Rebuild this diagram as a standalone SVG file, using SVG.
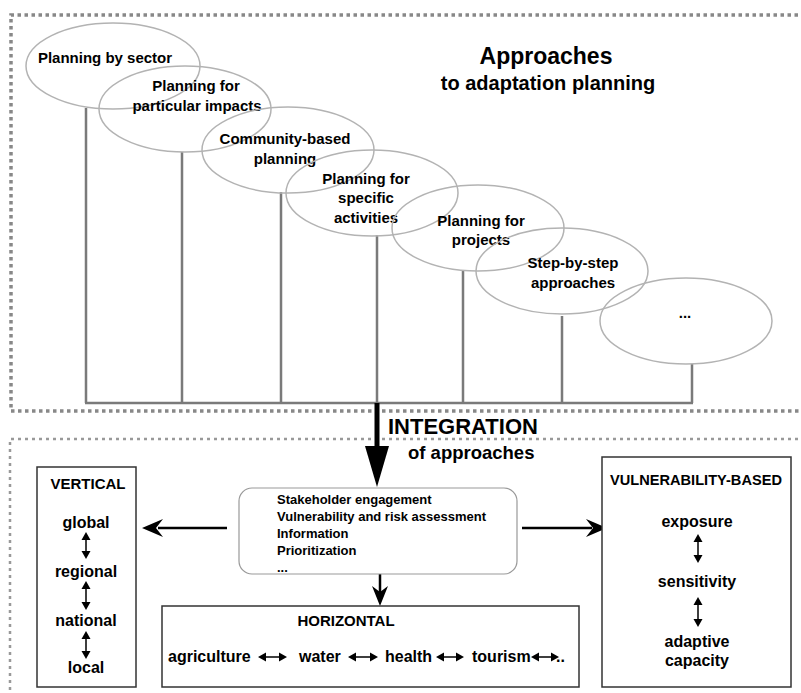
<svg xmlns="http://www.w3.org/2000/svg" width="801" height="693" viewBox="0 0 801 693">
<style>
text{font-family:"Liberation Sans",Arial,sans-serif;font-weight:bold;fill:#000}
.el{fill:none;stroke:#b3b3b3;stroke-width:1.5}
.lbl{font-size:15px;text-anchor:middle}
.stem{stroke:#7a7a7a;stroke-width:2.5;fill:none}
.box{fill:#fff;stroke:#333;stroke-width:1.5}
.w{font-size:16px;text-anchor:middle}
.hdr{text-anchor:middle}
.ln{stroke:#000;fill:none}
.hd{fill:#000;stroke:none}
</style>
<rect width="801" height="693" fill="#fff"/>
<!-- frames -->
<path d="M805,15 H11 V411 H805" fill="none" stroke="#888" stroke-width="3.5" stroke-dasharray="3.5 3.5"/>
<path d="M805,439 H10 V700" fill="none" stroke="#999" stroke-width="2.5" stroke-dasharray="3 4"/>
<!-- titles -->
<text x="546" y="64" font-size="23" text-anchor="middle">Approaches</text>
<text x="548" y="90" font-size="20" text-anchor="middle">to adaptation planning</text>
<text x="388" y="434" font-size="22">INTEGRATION</text>
<text x="408" y="459" font-size="18.5">of approaches</text>
<g id="connectors">
<path class="stem" d="M86,108V403M182,152V403M281,192V403M377,235V403M463,270V403M562,316V403M692,364V403M85,403H693"/>
<line class="ln" x1="377" y1="403" x2="377" y2="448" stroke-width="5"/>
<path class="hd" d="M365,446L389,446L377,487Z"/>
<line class="ln" x1="227" y1="528" x2="158" y2="528" stroke-width="2.5"/>
<path class="hd" d="M142,528L163,519L156,528L163,537Z"/>
<line class="ln" x1="522" y1="528" x2="592" y2="528" stroke-width="2.5"/>
<path class="hd" d="M607,528L586,519L593,528L586,537Z"/>
<line class="ln" x1="380" y1="567" x2="380" y2="592" stroke-width="2.5"/>
<path class="hd" d="M380,606L372,586L380,592L388,586Z"/>
</g>
<!-- ellipses -->
<g id="n1"><ellipse class="el" cx="113" cy="66" rx="87" ry="43"/><text class="lbl" x="105" y="63">Planning by sector</text></g>
<g id="n2"><ellipse class="el" cx="185" cy="109" rx="86" ry="43"/><text class="lbl" x="196" y="91">Planning for</text><text class="lbl" x="197" y="111">particular impacts</text></g>
<g id="n3"><ellipse class="el" cx="288" cy="150" rx="86" ry="43"/><text class="lbl" x="285" y="144">Community-based</text><text class="lbl" x="285" y="164">planning</text></g>
<g id="n4"><ellipse class="el" cx="372" cy="193" rx="86" ry="43"/><text class="lbl" x="366" y="184">Planning for</text><text class="lbl" x="366" y="203">specific</text><text class="lbl" x="366" y="223">activities</text></g>
<g id="n5"><ellipse class="el" cx="478" cy="228" rx="86" ry="43"/><text class="lbl" x="481" y="226">Planning for</text><text class="lbl" x="481" y="245">projects</text></g>
<g id="n6"><ellipse class="el" cx="562" cy="271" rx="86" ry="43"/><text class="lbl" x="573" y="268">Step-by-step</text><text class="lbl" x="573" y="288">approaches</text></g>
<g id="n7"><ellipse class="el" cx="686" cy="321" rx="86" ry="43"/><text class="lbl" x="685" y="318">...</text></g>
<!-- central box -->
<g id="center">
<rect x="239" y="488" width="278" height="86" rx="13" fill="#fff" stroke="#999" stroke-width="1.2"/>
<g font-size="13">
<text x="277" y="504">Stakeholder engagement</text>
<text x="277" y="521">Vulnerability and risk assessment</text>
<text x="277" y="538">Information</text>
<text x="277" y="555">Prioritization</text>
<text x="277" y="572">...</text>
</g>
</g>
<!-- vertical -->
<g id="vertical">
<rect class="box" x="37" y="467" width="99" height="220"/>
<text class="hdr" x="88" y="489" font-size="15">VERTICAL</text>
<text class="w" x="86" y="528">global</text>
<text class="w" x="86" y="577">regional</text>
<text class="w" x="86" y="626">national</text>
<text class="w" x="86" y="673">local</text>
<path class="ln" stroke-width="1.5" d="M86,538V553M86,587V604M86,637V653"/>
<path class="hd" d="M86,532l-4.5,8h9zM86,559l-4.5,-8h9zM86,581l-4.5,8h9zM86,610l-4.5,-8h9zM86,631l-4.5,8h9zM86,659l-4.5,-8h9z"/>
</g>
<!-- horizontal -->
<g id="horizontal">
<rect class="box" x="162" y="606" width="417" height="81"/>
<text class="hdr" x="346" y="626" font-size="15">HORIZONTAL</text>
<text x="168" y="662" font-size="16">agriculture</text>
<text x="299" y="662" font-size="16">water</text>
<text x="385" y="662" font-size="16">health</text>
<text x="472" y="662" font-size="16">tourism</text>
<text x="556" y="662" font-size="16">..</text>
<path class="ln" stroke-width="1.5" d="M264,657H281M354,657H372M442,657H458M537,657H553"/>
<path class="hd" d="M258,657l8,-4.5v9zM287,657l-8,-4.5v9zM348,657l8,-4.5v9zM378,657l-8,-4.5v9zM436,657l8,-4.5v9zM464,657l-8,-4.5v9zM531,657l8,-4.5v9zM559,657l-8,-4.5v9z"/>
</g>
<!-- vulnerability -->
<g id="vulnerability">
<rect class="box" x="602" y="457" width="189" height="230"/>
<text class="hdr" x="696" y="485" font-size="14.6">VULNERABILITY-BASED</text>
<text class="w" x="697" y="527">exposure</text>
<text class="w" x="697" y="587">sensitivity</text>
<text class="w" x="697" y="647">adaptive</text>
<text class="w" x="697" y="666">capacity</text>
<path class="ln" stroke-width="1.5" d="M698,540V557M698,603V621"/>
<path class="hd" d="M698,534l-4.5,8h9zM698,563l-4.5,-8h9zM698,597l-4.5,8h9zM698,627l-4.5,-8h9z"/>
</g>
</svg>
